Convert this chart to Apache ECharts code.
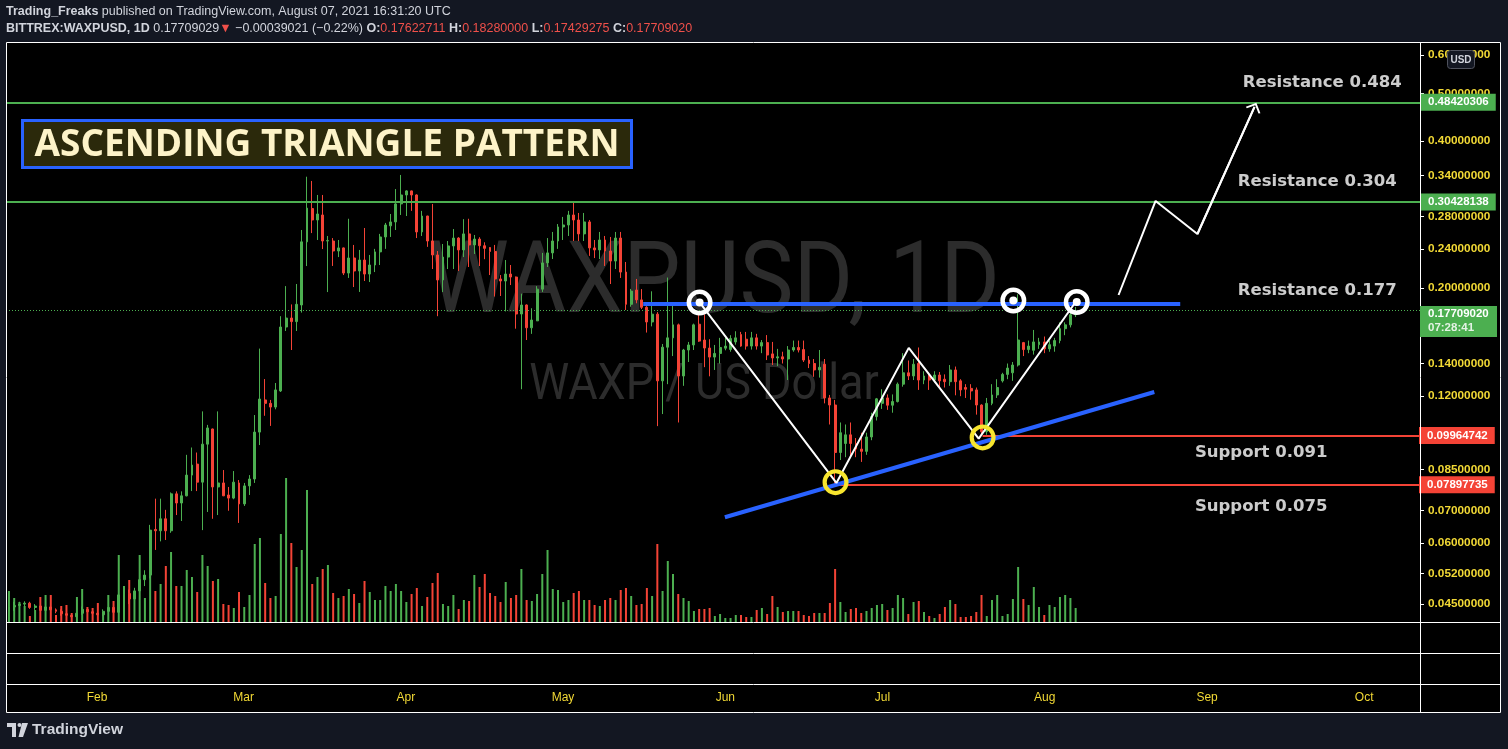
<!DOCTYPE html>
<html>
<head>
<meta charset="utf-8">
<script src="https://cdn.jsdelivr.net/npm/echarts@6/dist/echarts.min.js"></script>
<style>
html,body{margin:0;padding:0;background:#131722;}
#chart{width:1508px;height:749px;}
</style>
</head>
<body>
<div id="chart"></div>
<script>
// ---------------- DATA (BITTREX:WAXPUSD, 1D, 2021-01-15 .. 2021-08-07) ----------------
const firstDay = '2021-01-15';
const opens = [
  .0436,.0444,.0447,.0450,.0452,.0443,.0446,.0437,.0444,.0438,.0435,.0430,.0427,.0424,.0431,.0439,.0434,
  .0431,.0428,.0435,.0443,.0433,.0470,.0473,.0461,.0479,.0505,.0516,.0640,.0636,.0673,.0636,.0757,.0725,.0750,.0827,.0871,.0800,.0957,.1028,.0782,.0797,.0753,.0742,.0797,
  .0722,.0786,.0812,.1013,.1179,.1160,.1140,.1230,.1663,.1735,.1706,.1845,.2485,.2908,.2755,.2821,.2495,.2495,.2380,.2415,.2145,.2303,.2166,.2281,.2135,.2228,.2370,.2543,.2680,.2730,.2972,
  .3100,.3160,.3100,.2604,.2807,.2495,.2336,.2076,.2313,.2438,.2530,.2392,.2580,.2449,.2518,.2440,.2420,.2375,.2086,.2066,.2135,.2105,.1768,.1845,.1657,.1712,.1988,.2250,.2359,.2495,
  .2666,.2691,.2821,.2755,.2580,.2730,.2415,.2392,.2507,.2380,.2270,.2530,.2155,.1851,.1980,.1890,.1825,.1703,.1767,.1290,.1512,.1580,.1680,.1320,.1492,.1528,.1685,.1564,.1506,.1443,.1468,
  .1505,.1496,.1550,.1605,.1570,.1520,.1580,.1520,.1545,.1465,.1437,.1445,.1430,.1492,.1510,.1495,.1423,.1400,.1358,.1395,.1190,.1151,.0920,.0960,.1000,.0960,.0935,.0925,.0990,.1090,
  .1160,.1190,.1150,.1170,.1270,.1340,.1320,.1400,.1295,.1320,.1295,.1326,.1300,.1285,.1358,.1290,.1250,.1245,.1236,.1151,.1015,.1160,.1207,.1290,.1330,.1340,.1390,.1545,.1495,.1490,.1530,
  .1550,.1500,.1520,.1560,.1650,.1680,.17622711
];
const closes = [
  .0444,.0447,.0450,.0452,.0443,.0446,.0437,.0444,.0438,.0435,.0430,.0427,.0424,.0431,.0439,.0434,.0431,
  .0428,.0435,.0443,.0433,.0470,.0473,.0461,.0479,.0505,.0516,.0638,.0636,.0673,.0636,.0757,.0725,.0750,.0827,.0867,.0800,.0957,.1033,.0782,.0797,.0750,.0742,.0800,.0722,
  .0786,.0812,.1013,.1184,.1160,.1140,.1236,.1663,.1735,.1706,.1851,.2485,.2914,.2755,.2834,.2495,.2500,.2380,.2415,.2145,.2303,.2166,.2281,.2135,.2228,.2370,.2543,.2691,.2730,.2972,.3100,
  .3160,.3100,.2604,.2807,.2495,.2336,.2076,.2313,.2438,.2530,.2392,.2580,.2449,.2518,.2440,.2410,.2375,.2086,.2066,.2135,.2105,.1768,.1845,.1657,.1719,.1988,.2250,.2359,.2495,.2666,
  .2691,.2821,.2755,.2580,.2730,.2415,.2392,.2507,.2380,.2270,.2530,.2155,.1851,.1970,.1890,.1825,.1703,.1767,.1290,.1512,.1580,.1680,.1320,.1492,.1528,.1680,.1556,.1506,.1443,.1468,.1510,
  .1520,.1575,.1580,.1520,.1520,.1580,.1520,.1545,.1457,.1437,.1445,.1430,.1492,.1510,.1492,.1423,.1400,.1358,.1375,.1190,.1151,.0920,.1010,.1000,.0960,.0935,.0925,.0990,.1090,.1185,
  .1190,.1150,.1170,.1270,.1340,.1320,.1395,.1295,.1320,.1295,.1326,.1290,.1285,.1358,.1285,.1236,.1240,.1230,.1151,.1015,.1160,.1207,.1250,.1330,.1370,.1390,.1564,.1495,.1520,.1550,.1550,
  .1500,.1530,.1560,.1650,.1680,.1762,.17709020
];
const lows = [
  .0430,.0436,.0440,.0444,.0440,.0438,.0432,.0433,.0434,.0431,.0426,.0423,.0420,.0421,.0428,.0430,.0427,
  .0424,.0425,.0431,.0428,.0427,.0460,.0450,.0455,.0470,.0490,.0508,.0581,.0605,.0609,.0630,.0685,.0666,.0748,.0767,.0767,.0638,.0695,.0673,.0685,.0749,.0699,.0738,.0660,
  .0715,.0753,.0797,.0953,.1094,.1043,.1128,.1224,.1632,.1492,.1632,.1780,.2217,.2590,.2507,.2402,.1961,.2218,.2313,.2125,.2096,.2008,.1962,.2066,.2056,.2155,.2228,.2404,.2543,.2628,.2821,
  .2807,.2876,.2530,.2555,.2427,.2186,.1750,.1961,.2186,.2186,.2166,.2313,.2207,.2347,.2217,.2290,.2125,.1920,.1925,.1790,.2027,.1650,.1240,.1564,.1610,.1710,.1962,.2207,.2292,.2404,
  .2507,.2555,.2495,.2495,.2495,.2326,.2302,.2292,.2218,.2037,.2186,.2096,.1802,.1830,.1860,.1810,.1620,.1668,.1042,.1103,.1270,.1450,.1060,.1260,.1410,.1492,.1550,.1376,.1318,.1358,.1400,
  .1490,.1480,.1530,.1515,.1495,.1495,.1495,.1470,.1423,.1390,.1383,.1400,.1295,.1480,.1475,.1410,.1370,.1315,.1310,.1160,.1050,.07897735,.0888,.0900,.0900,.0900,.0880,.0910,.0975,.1070,
  .1130,.1125,.1110,.1165,.1255,.1295,.1295,.1236,.1270,.1236,.1280,.1250,.1250,.1260,.1205,.1200,.1190,.1180,.1100,.09964742,.1000,.1150,.1190,.1280,.1300,.1290,.1380,.1450,.1470,.1460,.1500,
  .1470,.1480,.1480,.1540,.1600,.1660,.17429275
];
const highs = [
  .0450,.0455,.0455,.0456,.0455,.0450,.0448,.0448,.0447,.0441,.0439,.0434,.0431,.0435,.0445,.0443,.0438,
  .0435,.0439,.0449,.0451,.0530,.0490,.0482,.0486,.0560,.0528,.0654,.0740,.0740,.0702,.0762,.0766,.0766,.0910,.0942,.0920,.1117,.1048,.1030,.1117,.0847,.0782,.0843,.0808,
  .0797,.0827,.1098,.1502,.1301,.1179,.1277,.1750,.2017,.1850,.2037,.2628,.3379,.3312,.3100,.3100,.2555,.2530,.2507,.2420,.2771,.2449,.2392,.2653,.2336,.2404,.2580,.2717,.2834,.3188,.3407,
  .3170,.3165,.3110,.2876,.2810,.2971,.2380,.2460,.2495,.2640,.2540,.2766,.2771,.2567,.2540,.2480,.2425,.2449,.2125,.2281,.2228,.2110,.1946,.1850,.1817,.2017,.2359,.2530,.2604,.2703,
  .2795,.2876,.3000,.2848,.2848,.2755,.2507,.2604,.2555,.2543,.2604,.2604,.2260,.1990,.2086,.1989,.1835,.1968,.1784,.1535,.2100,.1865,.1690,.1500,.1550,.1690,.1790,.1765,.1570,.1528,.1580,
  .1580,.1600,.1630,.1625,.1625,.1625,.1610,.1564,.1601,.1550,.1500,.1480,.1520,.1560,.1560,.1560,.1450,.1430,.1492,.1430,.1207,.1179,.1060,.1050,.1060,.0985,.1010,.1010,.1110,.1190,
  .1240,.1210,.1210,.1280,.1470,.1420,.1430,.1510,.1350,.1340,.1350,.1345,.1330,.1390,.1380,.1300,.1270,.1270,.1250,.1155,.1190,.1270,.1300,.1340,.1400,.1410,.1940,.1550,.1560,.1640,.1580,
  .1590,.1560,.1580,.1700,.1700,.1790,.18280000
];
const volumes = [
  31,24,20,16,6,12,25,27,27,7,16,17,9,25,33,15,14,
  19,10,27,21,67,36,42,24,67,24,92,31,38,56,70,36,36,52,45,30,67,56,41,43,18,17,14,30,
  15,27,78,84,39,24,26,88,144,79,55,72,132,38,45,53,57,29,24,26,33,28,19,41,30,22,22,36,31,38,31,
  20,28,34,16,25,39,49,18,16,27,13,22,21,47,35,48,29,26,20,40,24,27,53,22,21,28,48,72,33,32,
  20,22,29,31,22,22,17,16,22,24,22,32,34,26,17,18,34,26,78,31,61,48,28,24,21,11,13,13,14,6,8,
  4,4,7,7,5,5,12,14,8,26,15,10,11,11,11,7,6,9,9,9,19,53,20,10,13,14,9,11,14,17,
  18,12,14,27,24,8,20,21,10,6,4,8,15,22,18,5,5,6,10,27,6,22,27,6,8,23,55,23,17,35,15,
  7,17,15,25,27,24,14
];

// axis ticks
const priceTicks = [0.6, 0.5, 0.4, 0.34, 0.28, 0.24, 0.2, 0.14, 0.12, 0.085, 0.07, 0.06, 0.052, 0.045];
const monthTicks = ['2021-02-01','2021-03-01','2021-04-01','2021-05-01','2021-06-01','2021-07-01','2021-08-01','2021-09-01','2021-10-01'];
const monthNames = ['Feb','Mar','Apr','May','Jun','Jul','Aug','Sep','Oct'];

// annotation levels / drawings
const resistanceLevels = [0.48420306, 0.30428138];
const lastPrice = 0.17709020;
const countdownText = '07:28:41';
const supportLevels = [0.09964742, 0.07897735];
const supportStarts = ['2021-07-20T05:00:00Z', '2021-06-22T07:00:00Z'];
const flatTopLine = [['2021-05-16T07:00:00Z', 0.1860], ['2021-08-27T00:00:00Z', 0.1860]];
const risingBottomLine = [['2021-05-31T22:00:00Z', 0.0678], ['2021-08-22T01:00:00Z', 0.1224]];
const zigzagPath = [['2021-05-27T03:00:00Z', 0.1866], ['2021-06-22T06:00:00Z', 0.0797], ['2021-07-06T02:00:00Z', 0.1507], ['2021-07-19T11:00:00Z', 0.0982], ['2021-08-07T00:00:00Z', 0.1871]];
const projectionPath = [['2021-08-15T05:00:00Z', 0.1934], ['2021-08-22T07:00:00Z', 0.3014], ['2021-08-30T07:00:00Z', 0.2579], ['2021-09-10T05:00:00Z', 0.4697]];
const topTouches = [['2021-05-27T02:00:00Z', 0.1866], ['2021-07-26T02:00:00Z', 0.1885], ['2021-08-07T05:00:00Z', 0.1871]];
const bottomTouches = [['2021-06-22T02:00:00Z', 0.0800], ['2021-07-20T05:00:00Z', 0.0988]];
const noteTexts = ['Resistance 0.484', 'Resistance 0.304', 'Resistance 0.177', 'Support 0.091', 'Support 0.075'];
const notePoints = [['2021-09-07T21:00:00Z', 0.5258], ['2021-09-06T22:00:00Z', 0.3296], ['2021-09-06T22:00:00Z', 0.1971], ['2021-08-29T17:00:00Z', 0.0918], ['2021-08-29T17:00:00Z', 0.0712]];

// ---------------- BUILD ----------------
const GREEN = '#4caf50', RED = '#f44336', YELLOW = '#f2d935', BLUE = '#2962ff', TXT = '#d1d4dc';
const xMin = Date.parse('2021-01-14T15:00:00Z');
const xMax = Date.parse('2021-10-11T16:00:00Z');
const DAY = 86400000;
const t0 = Date.parse(firstDay + 'T00:00:00Z');
const T = s => Date.parse(s);
const dates = opens.map((_, i) => t0 + i * DAY);
const pt = p => [T(p[0]), p[1]];
const monthTs = monthTicks.map(s => Date.parse(s + 'T00:00:00Z'));

const candleData = dates.map((t, i) => [t, opens[i], closes[i], lows[i], highs[i]]);
const volumeData = dates.map((t, i) => ({
  value: [t, volumes[i]],
  itemStyle: { color: closes[i] >= opens[i] ? GREEN : RED }
}));

function badge(bg, v) {
  return {
    show: true, position: 'end', distance: 0,
    formatter: v.toFixed(8),
    color: '#ffffff', backgroundColor: bg,
    padding: [2, 7, 2, 8], lineHeight: 13,
    fontSize: 11.5, fontWeight: 'bold', fontFamily: 'Liberation Sans, Arial, sans-serif'
  };
}

const chevron = 'path://M0,8 L8,0 L16,8 L14.4,9.2 L8,2.8 L1.6,9.2 Z';
// annulus (ring) symbols: outer r=13, inner r=8.5 / 9
const whiteRingPath = 'path://M0,13 A13,13 0 1,0 26,13 A13,13 0 1,0 0,13 Z M4.5,13 A8.5,8.5 0 1,1 21.5,13 A8.5,8.5 0 1,1 4.5,13 Z';
const yellowRingPath = 'path://M0,13 A13,13 0 1,0 26,13 A13,13 0 1,0 0,13 Z M4.2,13 A8.8,8.8 0 1,1 21.8,13 A8.8,8.8 0 1,1 4.2,13 Z';

const chart = echarts.init(document.getElementById('chart'), null, { renderer: 'canvas' });

const option = {
  backgroundColor: '#000000',
  animation: false,
  useUTC: true,
  grid: [
    { left: 6, top: 42, width: 1414, height: 580, outerBoundsMode: 'none' },
    { left: 6, top: 684, width: 1414, height: 28, outerBoundsMode: 'none' }
  ],
  xAxis: [
    { type: 'time', gridIndex: 0, min: xMin, max: xMax, show: false, splitLine: { show: false } },
    {
      type: 'value', gridIndex: 1, min: xMin, max: xMax, position: 'top',
      axisLine: { show: false },
      axisTick: { show: true, inside: true, length: 4, lineStyle: { color: '#ffffff', width: 1 }, customValues: monthTs },
      axisLabel: {
        show: true, inside: true, margin: 8, color: YELLOW, fontSize: 12,
        fontFamily: 'Liberation Sans, Arial, sans-serif',
        customValues: monthTs,
        formatter: v => { const i = monthTs.indexOf(+v); return i >= 0 ? monthNames[i] : ''; }
      },
      splitLine: { show: false }
    }
  ],
  yAxis: [
    {
      type: 'log', logBase: 10, gridIndex: 0, position: 'right', min: 0.04136, max: 0.6379,
      axisLine: { show: false },
      axisTick: { show: true, length: 4, lineStyle: { color: '#ffffff' }, customValues: priceTicks },
      axisLabel: {
        show: true, margin: 8, color: YELLOW, fontSize: 11.8, fontWeight: 'bold',
        fontFamily: 'Liberation Sans, Arial, sans-serif',
        customValues: priceTicks,
        formatter: v => Number(v).toFixed(8)
      },
      splitLine: { show: false }
    },
    { type: 'value', gridIndex: 0, min: 0, max: 580, show: false },
    { type: 'value', gridIndex: 1, min: 0, max: 1, show: false }
  ],
  series: [
    {
      type: 'bar', name: 'Volume', xAxisIndex: 0, yAxisIndex: 1,
      barWidth: 2, data: volumeData, z: 1, silent: true
    },
    {
      type: 'candlestick', name: 'WAXPUSD', xAxisIndex: 0, yAxisIndex: 0,
      encode: { x: 0, y: [1, 2, 3, 4] },
      barWidth: 2.4, data: candleData, z: 2, silent: true,
      itemStyle: { color: GREEN, color0: RED, borderColor: GREEN, borderColor0: RED, borderWidth: 1 },
      markLine: {
        silent: true, symbol: ['none', 'none'], z: 5, animation: false,
        data: [
          { yAxis: resistanceLevels[0], lineStyle: { color: GREEN, width: 2, type: 'solid' }, label: badge(GREEN, resistanceLevels[0]) },
          { yAxis: resistanceLevels[1], lineStyle: { color: GREEN, width: 2, type: 'solid' }, label: badge(GREEN, resistanceLevels[1]) },
          { yAxis: lastPrice, lineStyle: { color: GREEN, width: 1, type: [1, 2] }, label: { show: false } },
          [
            { coord: [T(supportStarts[0]), supportLevels[0]], lineStyle: { color: RED, width: 2, type: 'solid' }, label: badge(RED, supportLevels[0]) },
            { coord: [xMax, supportLevels[0]] }
          ],
          [
            { coord: [T(supportStarts[1]), supportLevels[1]], lineStyle: { color: RED, width: 2, type: 'solid' }, label: badge(RED, supportLevels[1]) },
            { coord: [xMax, supportLevels[1]] }
          ],
          [
            { coord: pt(flatTopLine[0]), lineStyle: { color: BLUE, width: 4, type: 'solid' }, label: { show: false } },
            { coord: pt(flatTopLine[1]) }
          ],
          [
            { coord: pt(risingBottomLine[0]), lineStyle: { color: BLUE, width: 4, type: 'solid' }, label: { show: false } },
            { coord: pt(risingBottomLine[1]) }
          ]
        ]
      }
    },
    {
      type: 'line', name: 'zigzag', xAxisIndex: 0, yAxisIndex: 0, z: 6, silent: true,
      data: zigzagPath.map(pt), symbol: 'none', showSymbol: false, clip: false,
      lineStyle: { color: '#ffffff', width: 2 }
    },
    {
      type: 'line', name: 'projection', xAxisIndex: 0, yAxisIndex: 0, z: 6, silent: true,
      data: projectionPath.map(pt), symbol: 'none', showSymbol: false, clip: false,
      lineStyle: { color: '#ffffff', width: 2 },
      markLine: {
        silent: true, z: 6, animation: false,
        symbol: ['none', chevron], symbolSize: [16, 9],
        lineStyle: { color: '#ffffff', width: 2, type: 'solid' },
        label: { show: false },
        data: [[{ coord: pt(projectionPath[2]) }, { coord: pt(projectionPath[3]) }]]
      }
    },
    {
      type: 'scatter', name: 'topRings', xAxisIndex: 0, yAxisIndex: 0, z: 7, silent: true, clip: false,
      data: topTouches.map(pt), symbol: whiteRingPath, symbolSize: 26,
      itemStyle: { color: '#ffffff', borderWidth: 0, opacity: 1 }
    },
    {
      type: 'scatter', name: 'topDots', xAxisIndex: 0, yAxisIndex: 0, z: 7, silent: true, clip: false,
      data: topTouches.map(pt), symbol: 'circle', symbolSize: 8,
      itemStyle: { color: '#ffffff', borderWidth: 0, opacity: 1 }
    },
    {
      type: 'scatter', name: 'bottomRings', xAxisIndex: 0, yAxisIndex: 0, z: 7, silent: true, clip: false,
      data: bottomTouches.map(pt), symbol: yellowRingPath, symbolSize: 26,
      itemStyle: { color: '#f7e52e', borderWidth: 0, opacity: 1 }
    },
    {
      type: 'scatter', name: 'notes', xAxisIndex: 0, yAxisIndex: 0, z: 8, silent: true, clip: false,
      data: notePoints.map(pt), symbol: 'rect', symbolSize: 1,
      itemStyle: { color: 'rgba(0,0,0,0)' },
      label: {
        show: true, position: 'right', distance: 0,
        formatter: p => noteTexts[p.dataIndex],
        color: '#ffffff', fontFamily: 'DejaVu Sans, sans-serif', fontWeight: 'bold', fontSize: 16.5
      }
    }
  ],
  graphic: [
    // outer dark frame
    { type: 'rect', silent: true, z: 50, shape: { x: 0, y: 0, width: 1508, height: 42 }, style: { fill: '#131722' } },
    { type: 'rect', silent: true, z: 50, shape: { x: 0, y: 713, width: 1508, height: 36 }, style: { fill: '#131722' } },
    { type: 'rect', silent: true, z: 50, shape: { x: 0, y: 0, width: 6, height: 749 }, style: { fill: '#131722' } },
    { type: 'rect', silent: true, z: 50, shape: { x: 1501, y: 0, width: 7, height: 749 }, style: { fill: '#131722' } },
    // pane borders
    { type: 'rect', silent: true, z: 51, shape: { x: 6.5, y: 42.5, width: 1494, height: 670 }, style: { fill: 'none', stroke: '#ffffff', lineWidth: 1 } },
    { type: 'line', silent: true, z: 51, shape: { x1: 6.5, y1: 622.5, x2: 1500.5, y2: 622.5 }, style: { stroke: '#ffffff', lineWidth: 1 } },
    { type: 'line', silent: true, z: 51, shape: { x1: 6.5, y1: 653.5, x2: 1500.5, y2: 653.5 }, style: { stroke: '#ffffff', lineWidth: 1 } },
    { type: 'line', silent: true, z: 51, shape: { x1: 6.5, y1: 684.5, x2: 1500.5, y2: 684.5 }, style: { stroke: '#ffffff', lineWidth: 1 } },
    { type: 'line', silent: true, z: 51, shape: { x1: 1420.5, y1: 42.5, x2: 1420.5, y2: 712.5 }, style: { stroke: '#ffffff', lineWidth: 1 } },
    // header
    {
      type: 'text', silent: true, z: 52, x: 6, y: 12,
      style: {
        text: '{b|Trading_Freaks}{n| published on TradingView.com, August 07, 2021 16:31:20 UTC}',
        verticalAlign: 'middle', textVerticalAlign: 'middle',
        rich: {
          b: { fill: TXT, fontSize: 12.5, fontWeight: 'bold', fontFamily: 'Liberation Sans' },
          n: { fill: TXT, fontSize: 12.5, fontFamily: 'Liberation Sans' }
        }
      }
    },
    {
      type: 'text', silent: true, z: 52, x: 6, y: 29,
      style: {
        text: '{b|BITTREX:WAXPUSD, 1D}{n| 0.17709029}{r|▼}{n| −0.00039021 (−0.22%) }{b|O:}{r|0.17622711}{b| H:}{r|0.18280000}{b| L:}{r|0.17429275}{b| C:}{r|0.17709020}',
        verticalAlign: 'middle', textVerticalAlign: 'middle',
        rich: {
          b: { fill: TXT, fontSize: 12.5, fontWeight: 'bold', fontFamily: 'Liberation Sans' },
          n: { fill: TXT, fontSize: 12.5, fontFamily: 'Liberation Sans' },
          r: { fill: '#f0504a', fontSize: 12.5, fontFamily: 'Liberation Sans' }
        }
      }
    },
    // footer logo
    { type: 'polygon', silent: true, z: 52, shape: { points: [[7,723],[16,723],[16,737],[12,737],[12,727],[7,727]] }, style: { fill: '#d1d4dc' } },
    { type: 'circle', silent: true, z: 52, shape: { cx: 19.5, cy: 725, r: 2 }, style: { fill: '#d1d4dc' } },
    { type: 'polygon', silent: true, z: 52, shape: { points: [[22,723],[28,723],[23,737],[18.5,737]] }, style: { fill: '#d1d4dc' } },
    {
      type: 'text', silent: true, z: 52, x: 32, y: 730,
      style: { text: 'TradingView', fill: '#d1d4dc', font: 'bold 15.5px "Liberation Sans"', verticalAlign: 'middle', textVerticalAlign: 'middle' }
    },
    // watermark
    {
      type: 'text', silent: true, z: 0, x: 714, y: 287, scaleX: 0.9,
      style: { text: 'WAXPUSD, 1D', fill: '#2c2c2c', font: '101px Roboto', align: 'center', textAlign: 'center', verticalAlign: 'middle', textVerticalAlign: 'middle' }
    },
    {
      type: 'text', silent: true, z: 0, x: 704, y: 386, scaleX: 0.9,
      style: { text: 'WAXP / US Dollar', fill: '#2c2c2c', font: '50px Roboto', align: 'center', textAlign: 'center', verticalAlign: 'middle', textVerticalAlign: 'middle' }
    },
    // title box
    { type: 'rect', silent: true, z: 20, shape: { x: 22.5, y: 120.5, width: 609, height: 47 }, style: { fill: '#2b290b', stroke: BLUE, lineWidth: 3 } },
    {
      type: 'text', silent: true, z: 21, x: 327, y: 145,
      style: { text: 'ASCENDING TRIANGLE PATTERN', fill: '#fdf3c8', font: 'bold 37px "Open Sans"', align: 'center', textAlign: 'center', verticalAlign: 'middle', textVerticalAlign: 'middle' }
    },
    // USD badge
    { type: 'rect', silent: true, z: 60, shape: { x: 1447.5, y: 50.5, width: 27, height: 18, r: 3 }, style: { fill: '#131722', stroke: '#50535e', lineWidth: 1 } },
    {
      type: 'text', silent: true, z: 61, x: 1461, y: 60,
      style: { text: 'USD', fill: '#d1d4dc', font: 'bold 10px "Liberation Sans"', align: 'center', textAlign: 'center', verticalAlign: 'middle', textVerticalAlign: 'middle' }
    }
  ]
};

chart.setOption(option);

// current-price badge (price + bar countdown), placed through the price scale
const py = chart.convertToPixel({ yAxisIndex: 0 }, lastPrice);
chart.setOption({
  graphic: [
    { id: 'lpBox', type: 'rect', silent: true, z: 60, shape: { x: 1420, y: Math.round(py) - 8, width: 77, height: 31 }, style: { fill: GREEN } },
    { id: 'lpText', type: 'text', silent: true, z: 61, x: 1428, y: py,
      style: { text: lastPrice.toFixed(8), fill: '#ffffff', font: 'bold 11.5px "Liberation Sans"', verticalAlign: 'middle', textVerticalAlign: 'middle' } },
    { id: 'lpCount', type: 'text', silent: true, z: 61, x: 1428, y: py + 14,
      style: { text: countdownText, fill: 'rgba(255,255,255,0.85)', font: 'bold 11.5px "Liberation Sans"', verticalAlign: 'middle', textVerticalAlign: 'middle' } }
  ]
});
</script>
</body>
</html>
